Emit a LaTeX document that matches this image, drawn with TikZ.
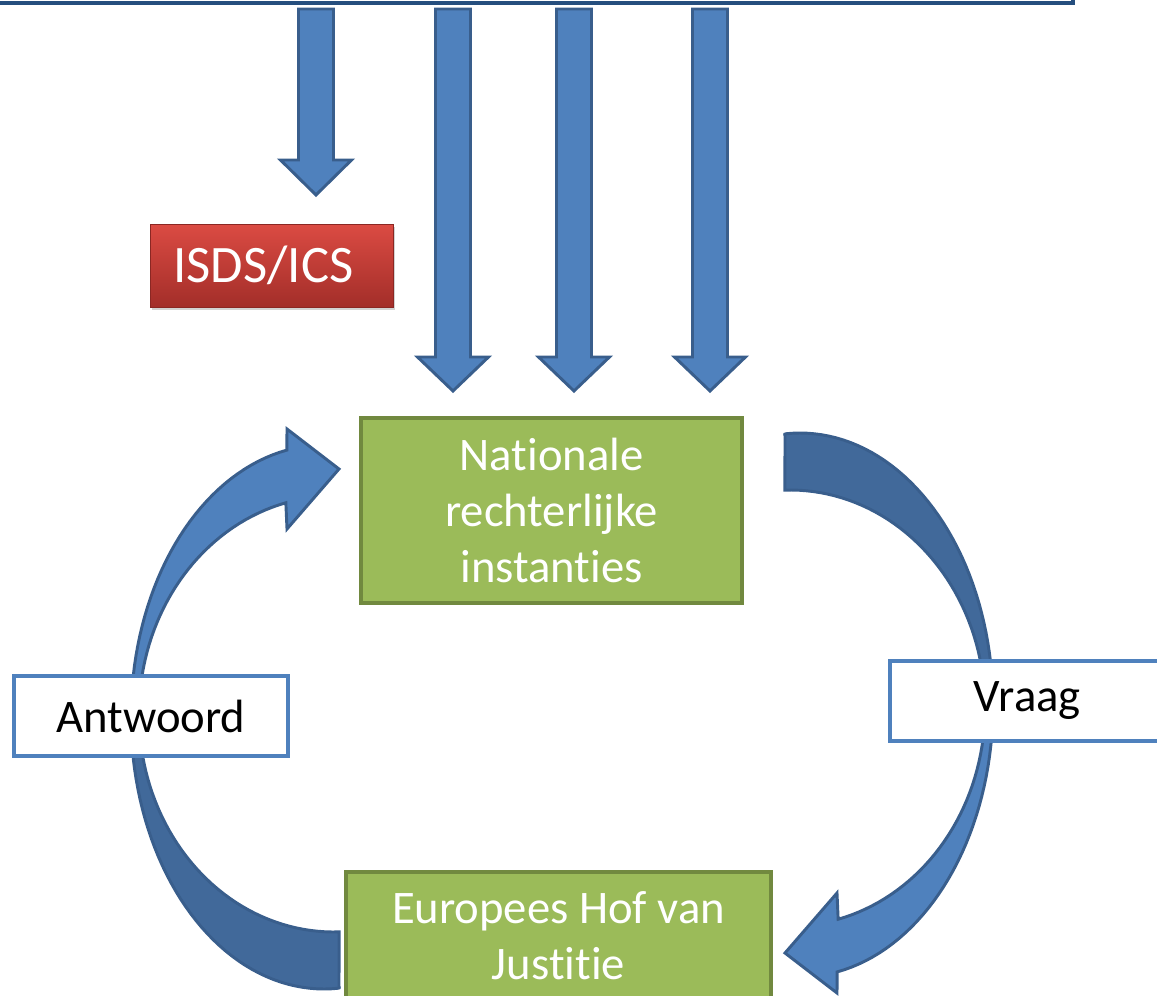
\documentclass[tikz,border=0pt]{standalone}
\usepackage{fontspec}
\setmainfont{Carlito}[RawFeature={-liga;-clig;-dlig}]
\usetikzlibrary{shadows}
\definecolor{bluefill}{HTML}{4F81BD}
\definecolor{bluedark}{HTML}{41699A}
\definecolor{blueline}{HTML}{395E8C}
\definecolor{greenfill}{HTML}{9BBB59}
\definecolor{greenline}{HTML}{71893F}
\definecolor{redtop}{HTML}{DB4B43}
\definecolor{redbot}{HTML}{A32E29}
\definecolor{topline}{HTML}{254E7E}
\definecolor{boxline}{HTML}{4F81BD}
\newcommand{\blockarrow}[4]{%
  \filldraw[downarrow] ({#1-17.5},#2) -- ({#1+17.5},#2) -- ({#1+17.5},#3) -- ({#1+35.5},#3)
    -- (#1,#4) -- ({#1-35.5},#3) -- ({#1-17.5},#3) -- cycle;}
\newcommand{\curvedshape}[1]{%
  \path[#1] (785,433)
    -- plot[domain=-94.5:78.9, samples=80] ({800+193*cos(\x)},{705+272*sin(\x)})
    -- (837,993) -- (785,953) -- (837,893)
    -- plot[domain=75.7:-91.5, samples=80] ({790+195*cos(\x)},{708+218*sin(\x)})
    -- cycle;}
\begin{document}
\begin{tikzpicture}[x=0.75pt,y=-0.75pt,
  downarrow/.style={fill=bluefill, draw=blueline, line width=2.2pt, line join=miter},
  greenbox/.style={draw=greenline, fill=greenfill, line width=2.4pt, text=white, align=center,
    font=\fontsize{35}{42}\selectfont, inner sep=0pt},
  whitebox/.style={draw=boxline, fill=white, line width=2.6pt, text=black,
    font=\fontsize{35}{42}\selectfont, inner sep=0pt, minimum width=205.5pt, minimum height=60pt},
  redbox/.style={draw=redbot!85!black, line width=0.6pt, top color=redtop, bottom color=redbot, text=white,
    font=\fontsize{39.5}{47}\selectfont, inner sep=0pt, minimum width=182.25pt, minimum height=62.25pt,
    drop shadow={shadow xshift=1.5pt, shadow yshift=-2.5pt, opacity=0.35}}]
\useasboundingbox (0,0) rectangle (1157,996);
\clip (0,0) rectangle (1157,996);

% top box (cut off)
\path[draw=topline, fill=white, line width=3pt] (-40,-80) rectangle (1073,3);

% down arrows
\blockarrow{316}{9}{160}{195}
\blockarrow{453}{9}{357}{391}
\blockarrow{574}{9}{357}{391}
\blockarrow{710}{9}{357}{391}

% curved arrow right (Vraag)
\begin{scope}
  \curvedshape{fill=bluefill}
  \begin{scope}
    \clip (700,400) rectangle (1100,705);
    \curvedshape{fill=bluedark}
  \end{scope}
  \curvedshape{draw=blueline, line width=2.2pt, line join=miter}
\end{scope}

% curved arrow left (Antwoord)
\begin{scope}[rotate around={180:(562,711)}]
  \curvedshape{fill=bluefill}
  \begin{scope}
    \clip (700,400) rectangle (1100,705);
    \curvedshape{fill=bluedark}
  \end{scope}
  \curvedshape{draw=blueline, line width=2.2pt, line join=miter}
\end{scope}

% boxes
\node[redbox] (isds) at (271.5,265.5) {\hspace*{-12pt}ISDS/ICS};
\node[greenbox, minimum width=285.75pt, minimum height=138.75pt] (nat) at (551.5,510.5)
  {Nationale\\rechterlijke\\instanties};
\node[greenbox, minimum width=318.75pt, minimum height=96pt] (hof) at (558.5,936)
  {Europees Hof van\\Justitie};
\node[whitebox] (antw) at (151,716) {Antwoord};
\node[whitebox] (vraag) at (1027,701) {Vraag};
\end{tikzpicture}
\end{document}
